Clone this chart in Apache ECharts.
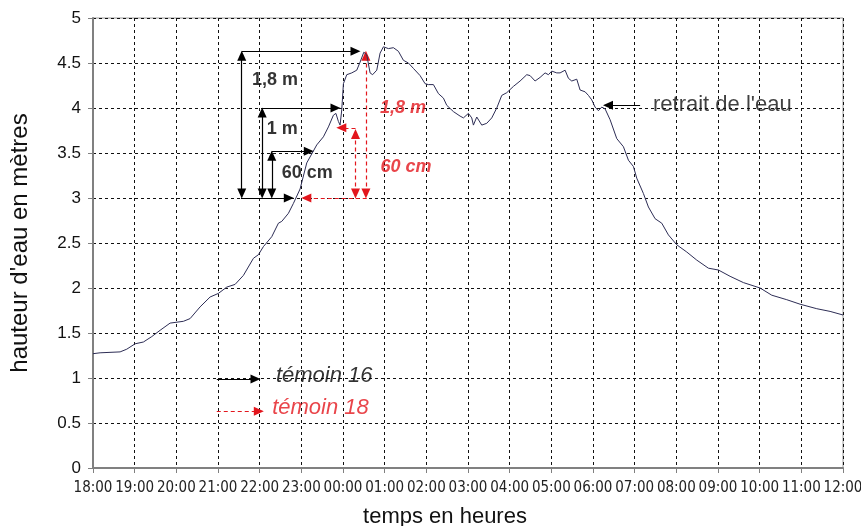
<!DOCTYPE html>
<html>
<head>
<meta charset="utf-8">
<script src="https://cdn.jsdelivr.net/npm/echarts@6/dist/echarts.min.js"></script>
<style>html,body{margin:0;padding:0;background:#fff;}#c{width:861px;height:526px;}</style>
</head>
<body>
<div id="c"></div>
<script>
// hours after 18:00
var times = [0,0.17,0.65,0.81,1.01,1.21,1.41,1.61,1.85,2.17,2.33,2.57,2.81,3.01,3.21,3.41,3.61,3.85,3.97,4.09,4.29,4.45,4.53,4.69,4.81,4.97,5.13,5.37,5.53,5.65,5.77,5.83,5.89,5.93,5.97,6.01,6.09,6.21,6.33,6.41,6.50,6.57,6.65,6.71,6.81,6.89,6.97,7.09,7.21,7.33,7.45,7.57,7.69,7.85,7.97,8.05,8.17,8.29,8.41,8.49,8.65,8.81,8.89,9.01,9.09,9.13,9.21,9.25,9.33,9.45,9.57,9.69,9.81,9.93,10.09,10.25,10.41,10.49,10.61,10.73,10.85,10.93,11.01,11.13,11.21,11.33,11.41,11.49,11.61,11.69,11.81,11.89,11.97,12.05,12.13,12.21,12.29,12.41,12.57,12.73,12.85,12.97,13.05,13.21,13.33,13.49,13.65,13.81,14.01,14.25,14.49,14.77,15.01,15.29,15.61,16.01,16.29,16.65,16.97,17.37,17.69,18.00];
var heights = [1.27,1.28,1.29,1.32,1.38,1.40,1.46,1.53,1.61,1.63,1.66,1.79,1.90,1.94,2.01,2.04,2.14,2.33,2.37,2.46,2.57,2.72,2.74,2.83,2.94,3.10,3.39,3.59,3.68,3.79,3.92,3.94,3.85,3.81,3.98,4.27,4.37,4.39,4.42,4.51,4.62,4.59,4.39,4.37,4.42,4.61,4.68,4.66,4.67,4.63,4.53,4.50,4.44,4.36,4.27,4.26,4.26,4.16,4.11,4.03,3.96,3.91,3.89,3.94,3.89,3.81,3.90,3.92,3.81,3.83,3.89,4.00,4.14,4.17,4.24,4.30,4.37,4.36,4.30,4.34,4.39,4.37,4.41,4.39,4.39,4.42,4.33,4.30,4.32,4.20,4.18,4.14,4.09,4.01,3.97,4.01,3.99,3.87,3.66,3.57,3.42,3.35,3.22,3.05,2.90,2.77,2.72,2.59,2.48,2.40,2.31,2.22,2.20,2.13,2.06,2.00,1.92,1.87,1.82,1.77,1.74,1.70];
var hourLabels = ['18:00','19:00','20:00','21:00','22:00','23:00','00:00','01:00','02:00','03:00','04:00','05:00','06:00','07:00','08:00','09:00','10:00','11:00','12:00'];
var yLabels = ['0','0.5','1','1.5','2','2.5','3','3.5','4','4.5','5'];
// annotation arrows (témoin 16, black): [x1,y1,x2,y2,headStart,headEnd]
var arrowsBlack = [
  [3.57,3.05,3.57,4.58,1,1],
  [3.57,4.63,6.30,4.63,0,1],
  [4.06,3.05,4.06,3.95,1,1],
  [4.06,4.00,5.82,4.00,0,1],
  [4.29,3.05,4.29,3.47,1,1],
  [4.29,3.52,5.18,3.52,0,1],
  [3.55,3.00,4.70,3.00,0,1],
  [13.13,4.03,12.36,4.03,0,1],
  [2.97,0.99,3.90,0.99,0,1]
];
// annotation arrows (témoin 18, red dashed)
var arrowsRed = [
  [6.57,3.00,5.12,3.00,0,1],
  [6.55,3.05,6.55,4.58,1,1],
  [6.30,3.05,6.30,3.71,1,1],
  [6.30,3.78,5.96,3.78,0,1],
  [2.97,0.63,3.98,0.63,0,1]
];
// text annotations: [x, y, text, kind]
var notes = [
  [4.37,4.31,'1,8 m','b'],
  [4.54,3.77,'1 m','b'],
  [5.14,3.28,'60 cm','b'],
  [7.44,4.00,'1,8 m','r'],
  [7.51,3.34,'60 cm','r'],
  [13.44,4.03,"retrait de l'eau",'n'],
  [4.39,1.02,'témoin 16','lb'],
  [4.30,0.67,'témoin 18','lr']
];

var RED = '#e3161d';
function mk(list, color, dashed) {
  return list.map(function (a) {
    return [
      {coord:[a[0],a[1]], symbol: a[4] ? 'triangle' : 'none', symbolSize:[9,10],
       lineStyle:{color:color, width:1.2, type: dashed ? [4,3] : 'solid'}},
      {coord:[a[2],a[3]], symbol: a[5] ? 'triangle' : 'none', symbolSize:[9,10]}
    ];
  });
}
function noteStyle(k) {
  var base = {show:true, position:'inside', fontFamily:'Arial, Liberation Sans, sans-serif'};
  if (k === 'b') return Object.assign(base, {color:'#000', fontWeight:'bold', fontSize:18});
  if (k === 'r') return Object.assign(base, {color:RED, fontWeight:'bold', fontStyle:'italic', fontSize:18});
  if (k === 'n') return Object.assign(base, {color:'#111', fontSize:22, align:'left'});
  if (k === 'lb') return Object.assign(base, {color:'#000', fontStyle:'italic', fontSize:22, align:'left'});
  return Object.assign(base, {color:RED, fontStyle:'italic', fontSize:22, align:'left'});
}

var chart = echarts.init(document.getElementById('c'), null, {renderer:'canvas'});
chart.setOption({
  animation:false,
  backgroundColor:'#fff',
  grid:{left:93, right:18, top:18, bottom:58, outerBoundsMode:'none', containLabel:false,
        show:true, borderColor:'#9a9a9a', borderWidth:1},
  xAxis:{
    type:'value', min:0, max:18, interval:1,
    name:'temps en heures', nameLocation:'middle', nameGap:38,
    nameTextStyle:{fontSize:22, color:'#111', fontFamily:'Arial, Liberation Sans, sans-serif', padding:[0,46,0,0]},
    axisLine:{lineStyle:{color:'#808080', width:2}},
    axisTick:{show:true, length:5, lineStyle:{color:'#808080'}},
    axisLabel:{margin:13, fontSize:15, color:'#222', fontFamily:'Liberation Sans Narrow, DejaVu Sans Condensed, sans-serif',
      formatter:function(v){return hourLabels[Math.round(v)];}},
    splitLine:{show:true, lineStyle:{color:'#111', type:[3,3], width:1}}
  },
  yAxis:{
    type:'value', min:0, max:5, interval:0.5,
    name:"hauteur d'eau en mètres", nameLocation:'middle', nameGap:61, nameRotate:90,
    nameTextStyle:{fontSize:24, color:'#111', fontFamily:'Arial, Liberation Sans, sans-serif'},
    axisLine:{show:true, lineStyle:{color:'#808080', width:2}},
    axisTick:{show:true, length:5, lineStyle:{color:'#808080'}},
    axisLabel:{margin:12, fontSize:17, color:'#111', fontFamily:'Arial, Liberation Sans, sans-serif',
      formatter:function(v){return yLabels[Math.round(v/0.5)];}},
    splitLine:{show:true, lineStyle:{color:'#111', type:[3,3], width:1}}
  },
  series:[
    {
      type:'line', name:'hauteur', showSymbol:false, symbol:'none',
      data: times.map(function(t,i){return [t, heights[i]];}),
      lineStyle:{color:'#2d2d55', width:1}, z:5
    },
    {
      type:'line', data:[], silent:true,
      markLine:{silent:true, animation:false, label:{show:false}, data: mk(arrowsBlack,'#000',false),
        lineStyle:{color:'#000'}, itemStyle:{color:'#000'}}
    },
    {
      type:'line', data:[], silent:true,
      markLine:{silent:true, animation:false, label:{show:false}, data: mk(arrowsRed,RED,true),
        lineStyle:{color:RED}, itemStyle:{color:RED}}
    },
    {
      type:'scatter', symbolSize:0, silent:true, z:10,
      data: notes.map(function(n){return {value:[n[0],n[1]], label: Object.assign(noteStyle(n[3]), {formatter:n[2]})};})
    }
  ]
});
</script>
</body>
</html>
